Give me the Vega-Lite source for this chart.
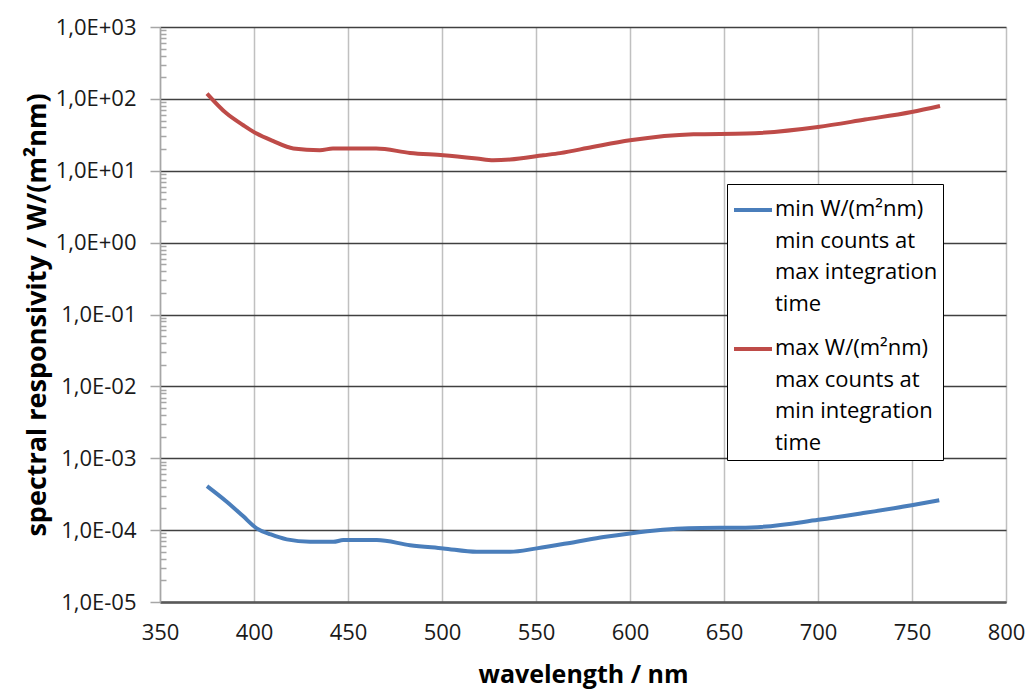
{
  "$schema": "https://vega.github.io/schema/vega-lite/v6.json",
  "width": 846,
  "height": 575,
  "autosize": {"type": "none"},
  "padding": {"left": 160, "top": 27, "right": 24, "bottom": 89},
  "background": "white",
  "config": {
    "view": {"stroke": null},
    "font": "Open Sans"
  },
  "data": {
    "values": [
      {"wl": 375, "series": "min", "v": 0.000409},
      {"wl": 385.5, "series": "min", "v": 0.000248},
      {"wl": 394, "series": "min", "v": 0.000158},
      {"wl": 401.4, "series": "min", "v": 0.000106},
      {"wl": 409, "series": "min", "v": 0.000087},
      {"wl": 417.4, "series": "min", "v": 0.0000743},
      {"wl": 429.8, "series": "min", "v": 0.0000687},
      {"wl": 442.2, "series": "min", "v": 0.0000687},
      {"wl": 447.5, "series": "min", "v": 0.0000726},
      {"wl": 465.3, "series": "min", "v": 0.0000726},
      {"wl": 483, "series": "min", "v": 0.0000618},
      {"wl": 500.7, "series": "min", "v": 0.0000557},
      {"wl": 518.5, "series": "min", "v": 0.0000499},
      {"wl": 536.2, "series": "min", "v": 0.0000499},
      {"wl": 550.4, "series": "min", "v": 0.0000557},
      {"wl": 571.6, "series": "min", "v": 0.000069},
      {"wl": 586, "series": "min", "v": 0.00008},
      {"wl": 600, "series": "min", "v": 0.00009},
      {"wl": 631, "series": "min", "v": 0.000106},
      {"wl": 664.7, "series": "min", "v": 0.000109},
      {"wl": 700.2, "series": "min", "v": 0.000139},
      {"wl": 725, "series": "min", "v": 0.000174},
      {"wl": 749.8, "series": "min", "v": 0.000222},
      {"wl": 764.5, "series": "min", "v": 0.000261},
      {"wl": 375, "series": "max", "v": 118.6},
      {"wl": 385.5, "series": "max", "v": 62.4},
      {"wl": 394.3, "series": "max", "v": 43},
      {"wl": 401.4, "series": "max", "v": 32.9},
      {"wl": 410, "series": "max", "v": 26},
      {"wl": 420.9, "series": "max", "v": 20.4},
      {"wl": 435, "series": "max", "v": 19.3},
      {"wl": 442, "series": "max", "v": 20.4},
      {"wl": 465, "series": "max", "v": 20.4},
      {"wl": 483, "series": "max", "v": 17.7},
      {"wl": 500.7, "series": "max", "v": 16.4},
      {"wl": 518.5, "series": "max", "v": 14.8},
      {"wl": 527.3, "series": "max", "v": 14.0},
      {"wl": 536.2, "series": "max", "v": 14.3},
      {"wl": 553.9, "series": "max", "v": 16.4},
      {"wl": 562.8, "series": "max", "v": 17.6},
      {"wl": 580, "series": "max", "v": 21.4},
      {"wl": 600, "series": "max", "v": 26.5},
      {"wl": 633.7, "series": "max", "v": 32.2},
      {"wl": 662, "series": "max", "v": 32.9},
      {"wl": 700, "series": "max", "v": 40.6},
      {"wl": 725, "series": "max", "v": 51.5},
      {"wl": 749.8, "series": "max", "v": 65.7},
      {"wl": 764.9, "series": "max", "v": 79.6}
    ]
  },
  "mark": {"type": "line", "strokeWidth": 4, "interpolate": "monotone", "clip": true},
  "encoding": {
    "x": {
      "field": "wl",
      "type": "quantitative",
      "scale": {"domain": [350, 800], "nice": false, "zero": false},
      "axis": {
        "values": [350, 400, 450, 500, 550, 600, 650, 700, 750, 800],
        "title": "wavelength / nm",
        "titleFont": "Open Sans",
        "titleFontSize": 25,
        "titleFontWeight": "bold",
        "titleColor": "black",
        "titlePadding": 19,
        "labelFont": "Open Sans",
        "labelFontSize": 22,
        "labelColor": "#1a1a1a",
        "labelPadding": 20,
        "ticks": false,
        "domainColor": "#595959",
        "domainWidth": 2.5,
        "gridColor": "#c0c0c0",
        "gridWidth": 1.5,
        "labelFlush": false
      }
    },
    "y": {
      "field": "v",
      "type": "quantitative",
      "scale": {"type": "log", "domain": [0.00001, 1000], "nice": false},
      "axis": {
        "values": [0.00001, 0.00002, 0.00003, 0.00004, 0.00005, 0.00006, 0.00007, 0.00008, 0.00009,
                   0.0001, 0.0002, 0.0003, 0.0004, 0.0005, 0.0006, 0.0007, 0.0008, 0.0009,
                   0.001, 0.002, 0.003, 0.004, 0.005, 0.006, 0.007, 0.008, 0.009,
                   0.01, 0.02, 0.03, 0.04, 0.05, 0.06, 0.07, 0.08, 0.09,
                   0.1, 0.2, 0.3, 0.4, 0.5, 0.6, 0.7, 0.8, 0.9,
                   1, 2, 3, 4, 5, 6, 7, 8, 9,
                   10, 20, 30, 40, 50, 60, 70, 80, 90,
                   100, 200, 300, 400, 500, 600, 700, 800, 900, 1000],
        "labelExpr": "abs(log(datum.value)/LN10 - round(log(datum.value)/LN10)) < 0.000001 ? '1,0E' + (round(log(datum.value)/LN10) < 0 ? '-' : '+') + '0' + abs(round(log(datum.value)/LN10)) : ''",
        "labelOverlap": false,
        "labelFont": "Open Sans",
        "labelFontSize": 22,
        "labelColor": "#1a1a1a",
        "labelPadding": 14,
        "labelFlush": false,
        "title": "spectral responsivity  / W/(m²nm)",
        "titleFont": "Open Sans",
        "titleFontSize": 27,
        "titleFontWeight": "bold",
        "titleColor": "black",
        "titlePadding": 4,
        "domainColor": "#a6a6a6",
        "domainWidth": 1.5,
        "tickColor": "#a6a6a6",
        "tickWidth": 1.5,
        "tickSize": {"condition": {"test": "abs(log(datum.value)/LN10 - round(log(datum.value)/LN10)) < 0.000001", "value": 10}, "value": -6},
        "gridColor": "#404040",
        "gridWidth": 1.5,
        "gridOpacity": {"condition": {"test": "abs(log(datum.value)/LN10 - round(log(datum.value)/LN10)) < 0.000001", "value": 1}, "value": 0}
      }
    },
    "color": {
      "field": "series",
      "type": "nominal",
      "scale": {"domain": ["min", "max"], "range": ["#4a7ebb", "#be4b48"]},
      "legend": {
        "orient": "none",
        "legendX": 567,
        "legendY": 157,
        "title": null,
        "symbolType": "stroke",
        "symbolSize": 1444,
        "symbolStrokeWidth": 4,
        "labelFont": "Open Sans",
        "labelFontSize": 22,
        "labelColor": "black",
        "labelLimit": 400,
        "labelOffset": 1,
        "labelBaseline": "top",
        "rowPadding": 12,
        "padding": 5,
        "strokeColor": "black",
        "fillColor": "white",
        "labelExpr": "datum.value == 'min' ? ['min W/(m²nm)', 'min counts at', 'max integration', 'time'] : ['max W/(m²nm)', 'max counts at', 'min integration', 'time']",
        "encode": {
          "labels": {"update": {"lineHeight": {"value": 31.7}, "dy": {"value": -11}}}
        }
      }
    }
  }
}
